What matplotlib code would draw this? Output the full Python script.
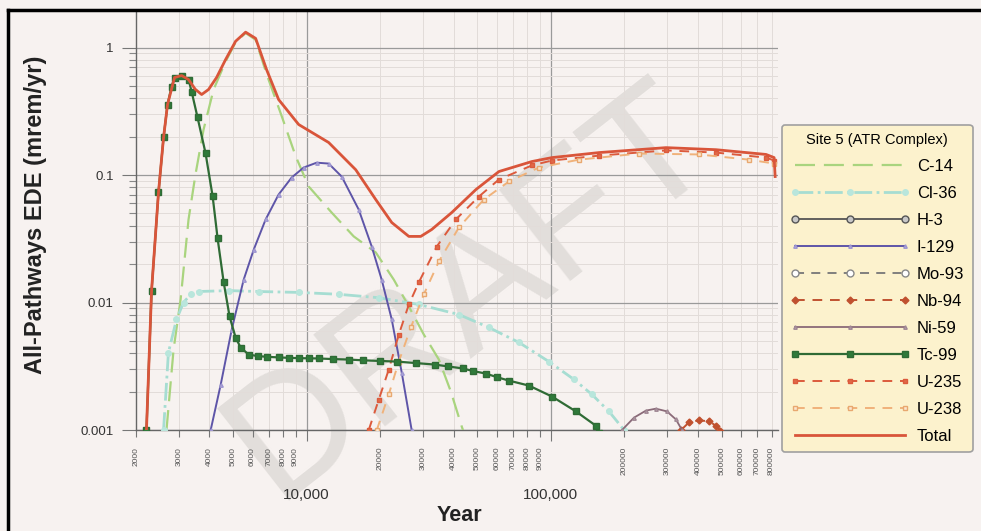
import numpy as np
import matplotlib.pyplot as plt
from matplotlib.ticker import FixedLocator, FixedFormatter, NullFormatter
from matplotlib.lines import Line2D

plt.rcParams['font.family'] = ['Liberation Sans', 'DejaVu Sans']

# values (year, mrem/yr)
tc99_x = [2208, 2317, 2473, 2594, 2693, 2798, 2877, 3075, 3283, 3379, 3574, 3855, 4121, 4318,
          4573, 4834, 5116, 5366, 5785, 6300, 6900, 7674, 8500, 9300, 10200, 11200, 12800,
          14860, 17000, 20000, 23390, 28000, 33500, 38000, 43600, 48000, 54200, 60000, 67300,
          81300, 101000, 126500, 152800, 158000]
tc99_y = [0.001, 0.0124, 0.073, 0.197, 0.357, 0.494, 0.582, 0.603, 0.561, 0.452, 0.283, 0.148,
          0.068, 0.0318, 0.0144, 0.00777, 0.00531, 0.00443, 0.00391, 0.0038, 0.00375, 0.00371,
          0.00368, 0.00366, 0.00365, 0.00364, 0.0036, 0.00357, 0.00352, 0.00348, 0.00344,
          0.00335, 0.00326, 0.00315, 0.00304, 0.0029, 0.00277, 0.0026, 0.00244, 0.00223,
          0.00183, 0.0014, 0.00108, 0.00095]

c14_x = [2667, 2851, 3047, 3283, 3505, 3782, 4158, 4656, 5116, 5623, 6180, 6850, 7910, 9020,
         10190, 12650, 15580, 19180, 22740, 26200, 30180, 34770, 38930, 43170, 44500]
c14_y = [0.001, 0.00428, 0.0106, 0.0448, 0.101, 0.227, 0.469, 0.776, 1.1, 1.3, 1.15, 0.62,
         0.288, 0.14, 0.0813, 0.0508, 0.033, 0.0247, 0.0151, 0.0093, 0.0056, 0.00357, 0.002,
         0.00106, 0.0009]

cl36_x = [2594, 2716, 2930, 3131, 3350, 3610, 4786, 6350, 9272, 13520, 19730, 28780, 42000,
          55700, 74000, 98100, 124300, 147200, 172800, 199300]
cl36_y = [0.001, 0.00405, 0.00736, 0.01, 0.0116, 0.0122, 0.0124, 0.0122, 0.012, 0.0116, 0.0109,
          0.00965, 0.00805, 0.00637, 0.00486, 0.00344, 0.00249, 0.0019, 0.0014, 0.001]

i129_x = [4045, 4446, 4933, 5520, 6070, 6790, 7674, 8680, 9720, 10990, 12300, 13910, 16330,
          18460, 20280, 22300, 24500, 26900]
i129_y = [0.001, 0.00227, 0.00614, 0.0151, 0.026, 0.0448, 0.0703, 0.0956, 0.1145, 0.125, 0.123,
          0.0973, 0.0536, 0.0275, 0.0151, 0.00736, 0.00282, 0.001]

ni59_x = [195500, 218800, 245000, 269000, 298500, 325000, 344000]
ni59_y = [0.001, 0.00125, 0.00142, 0.00147, 0.0014, 0.00121, 0.001]

nb94_x = [341000, 368000, 404000, 444000, 474000, 493000]
nb94_y = [0.001, 0.00115, 0.00119, 0.00117, 0.00108, 0.00099]

u235_x = [17950, 19730, 21680, 23830, 26200, 28780, 34100, 40800, 50700, 61240, 83570, 101000,
          157500, 296000, 474000, 760000, 820000]
u235_y = [0.001, 0.00173, 0.00298, 0.0056, 0.00965, 0.0144, 0.0275, 0.0448, 0.0678, 0.0922,
          0.119, 0.13, 0.142, 0.156, 0.15, 0.137, 0.13]

u238_x = [19370, 21680, 23830, 26690, 30180, 34770, 42000, 53100, 67300, 89300, 130300, 229700,
          404000, 647000, 820000]
u238_y = [0.001, 0.0019, 0.00344, 0.00637, 0.0116, 0.021, 0.0388, 0.0642, 0.089, 0.1145, 0.132,
          0.1475, 0.145, 0.132, 0.123]

total_x = [2208, 2317, 2473, 2594, 2693, 2877, 3075, 3283, 3500, 3715, 3966, 4276, 4656, 5116,
           5623, 6180, 6850, 7674, 9272, 12300, 15880, 19180, 22300, 26200, 29310, 32510, 39270,
           49300, 61240, 83570, 101000, 157500, 296000, 474000, 760000, 820000, 828000]
total_y = [0.001, 0.0124, 0.073, 0.197, 0.357, 0.582, 0.603, 0.561, 0.47, 0.428, 0.469, 0.582,
           0.805, 1.12, 1.32, 1.18, 0.672, 0.391, 0.249, 0.18, 0.11, 0.0642, 0.0424, 0.033,
           0.033, 0.0374, 0.0508, 0.0769, 0.1065, 0.1276, 0.137, 0.15, 0.164, 0.158, 0.145,
           0.137, 0.0973]

minor_x = [2000, 3000, 4000, 5000, 6000, 7000, 8000, 9000,
           20000, 30000, 40000, 50000, 60000, 70000, 80000, 90000,
           200000, 300000, 400000, 500000, 600000, 700000, 800000]
minor_lbl = [str(v) for v in minor_x]
major_x = [10000, 100000]
major_lbl = ['10,000', '100,000']
y_ticks = [0.001, 0.01, 0.1, 1]
y_lbl = ['0.001', '0.01', '0.1', '1']

bg = '#f7f2f0'
fig = plt.figure(figsize=(9.81, 5.31), dpi=100, facecolor=bg)
ax = fig.add_axes([0.1386, 0.1902, 0.6544, 0.7872], facecolor=bg)

# watermark
fig.text(0.48, 0.45, 'DRAFT', rotation=38, fontsize=122, color='#e2dedb',
         ha='center', va='center', zorder=0)
ax.set_zorder(1)
ax.patch.set_alpha(0)

ax.plot(c14_x, c14_y, color='#a9d47e', lw=1.6, dashes=(9, 4), label='C-14', zorder=3)
ax.plot(cl36_x, cl36_y, color='#a6ddd2', lw=2.0, ls='-.', marker='o', ms=4,
        mfc='#b9e6dc', mec='#b9e6dc', label='Cl-36', zorder=3)
ax.plot([], [], color='#555555', lw=1.3, marker='o', ms=5, mfc='#c8c8c8', mec='#555555', label='H-3')
ax.plot(i129_x, i129_y, color='#5e55a8', lw=1.4, marker='^', ms=2.5, mfc='#b8b0e0',
        mec='#9e96d0', label='I-129', zorder=4)
ax.plot([], [], color='#777777', lw=1.3, dashes=(5, 4), marker='o', ms=5, mfc='white',
        mec='#888888', label='Mo-93')
ax.plot(nb94_x, nb94_y, color='#c0512f', lw=1.4, dashes=(5, 4), marker='D', ms=3.5,
        mfc='#c0512f', mec='#c0512f', label='Nb-94', zorder=4)
ax.plot(ni59_x, ni59_y, color='#8a6a78', lw=1.3, marker='^', ms=2.5, mfc='#c0a8b4',
        mec='#a08894', label='Ni-59', zorder=4)
ax.plot(tc99_x, tc99_y, color='#2f6b35', lw=1.6, marker='s', ms=5, mfc='#2f7a3a',
        mec='#2f6b35', label='Tc-99', zorder=5)
ax.plot(u235_x, u235_y, color='#dc5a3c', lw=1.4, dashes=(5, 4), marker='s', ms=3.5,
        mfc='#e06a48', mec='#dc5a3c', label='U-235', zorder=4)
ax.plot(u238_x, u238_y, color='#f0b27a', lw=1.4, dashes=(5, 4), marker='s', ms=3.5,
        mfc='#fbe7d0', mec='#e8a870', label='U-238', zorder=4)
ax.plot(total_x, total_y, color='#d9553a', lw=2.0, label='Total', zorder=6)

ax.set_xscale('log')
ax.set_yscale('log')
ax.set_xlim(2000, 850000)
ax.set_ylim(0.001, 1.9)

ax.xaxis.set_major_locator(FixedLocator(major_x))
ax.xaxis.set_major_formatter(FixedFormatter(major_lbl))
ax.xaxis.set_minor_locator(FixedLocator(minor_x))
ax.xaxis.set_minor_formatter(FixedFormatter(minor_lbl))
ax.yaxis.set_major_locator(FixedLocator(y_ticks))
ax.yaxis.set_major_formatter(FixedFormatter(y_lbl))
ax.yaxis.set_minor_formatter(NullFormatter())

ax.tick_params(axis='x', which='major', length=8, width=0.8, color='#777777', pad=34,
               labelsize=11, labelcolor='#333333')
ax.tick_params(axis='x', which='minor', length=5, width=0.8, color='#777777', pad=7,
               labelsize=6, labelrotation=90, labelcolor='#555555')
ax.tick_params(axis='y', which='major', length=10, width=0.8, color='#777777', pad=6,
               labelsize=9.5, labelcolor='#333333')
ax.tick_params(axis='y', which='minor', length=5, width=0.8, color='#888888')

ax.grid(True, which='major', color='#9a9a9a', lw=0.9)
ax.grid(True, which='minor', color='#e2dcd9', lw=0.7)
ax.set_axisbelow(True)
for s in ['top', 'right']:
    ax.spines[s].set_visible(False)
for s in ['left', 'bottom']:
    ax.spines[s].set_color('#666666')
    ax.spines[s].set_linewidth(1.0)

fig.text(0.036, 0.595, 'All-Pathways EDE (mrem/yr)', rotation=90, fontsize=17,
         fontweight='bold', ha='center', va='center', color='#222222')
fig.text(0.468, 0.03, 'Year', fontsize=15.5, fontweight='bold', ha='center', va='center',
         color='#222222')

leg = fig.legend(loc='upper left', bbox_to_anchor=(0.797, 0.765), title='Site 5 (ATR Complex)',
                 fontsize=12, title_fontsize=10.5, numpoints=3, handlelength=7.2,
                 handletextpad=0.4, labelspacing=0.72, borderpad=0.5, borderaxespad=0,
                 fancybox=True, facecolor='#fcf2cd', edgecolor='#a0a0a0', framealpha=1)
leg.get_frame().set_linewidth(1.2)

# outer frame of the scanned page
fig.add_artist(Line2D([0.008, 1.0], [0.981, 0.981], color='black', lw=2.5))
fig.add_artist(Line2D([0.008, 0.008], [0.0, 0.981], color='black', lw=2.5))

fig.savefig('out.png', dpi=100, facecolor=bg)
